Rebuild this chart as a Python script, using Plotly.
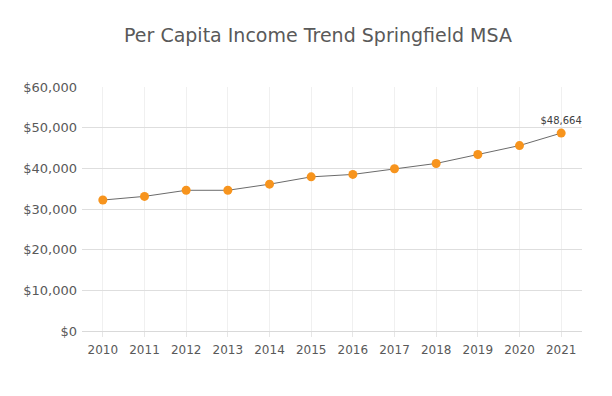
import plotly.graph_objects as go

years = ["2010", "2011", "2012", "2013", "2014", "2015", "2016", "2017", "2018", "2019", "2020", "2021"]
income = [32200, 33100, 34600, 34600, 36100, 37900, 38500, 39900, 41200, 43400, 45600, 48664]
y_ticks = [0, 10000, 20000, 30000, 40000, 50000, 60000]
y_tick_labels = ["$0", "$10,000", "$20,000", "$30,000", "$40,000", "$50,000", "$60,000"]
title_text = "Per Capita Income Trend Springfield MSA"

FONT = "DejaVu Sans"
point_labels = [""] * (len(income) - 1) + ["$" + format(income[-1], ",")]

# the page has a default 8px body margin; compensate in margins
OFF = 8

fig = go.Figure()
fig.add_trace(go.Scatter(
    x=years, y=income, mode="lines+markers+text",
    line=dict(color="#6b6b6b", width=1),
    marker=dict(color="#f7941d", size=9),
    text=point_labels, textposition="top center",
    textfont=dict(family=FONT, size=10, color="#404040"),
    hoverinfo="x+y", showlegend=False, cliponaxis=False,
))
fig.update_layout(
    width=612, height=396,
    margin=dict(l=82 - OFF, r=30 + OFF, t=87 - OFF, b=65 + OFF),
    paper_bgcolor="white", plot_bgcolor="white",
    title=dict(text=title_text, x=(318 - OFF) / 612, xanchor="center", y=1 - (35 - OFF) / 396,
               yanchor="middle", font=dict(family=FONT, size=19, color="#595959")),
    font=dict(family=FONT, color="#595959"),
    xaxis=dict(type="category", range=[-0.5, 11.5], showgrid=True, gridcolor="#f0f0f0", gridwidth=1,
               showline=True, linecolor="#d9d9d9", linewidth=1, ticks="outside", ticklen=5,
               tickcolor="#e6e6e6", ticklabelstandoff=3, automargin=False,
               tickfont=dict(family=FONT, size=12, color="#595959"), zeroline=False),
    yaxis=dict(range=[0, 60000], tickvals=y_ticks, ticktext=y_tick_labels, showgrid=True,
               gridcolor="#dedede", gridwidth=1, zeroline=False, showline=False, ticks="",
               ticklabelstandoff=4, automargin=False,
               tickfont=dict(family=FONT, size=13, color="#595959")),
)
fig.write_html("out.html")
